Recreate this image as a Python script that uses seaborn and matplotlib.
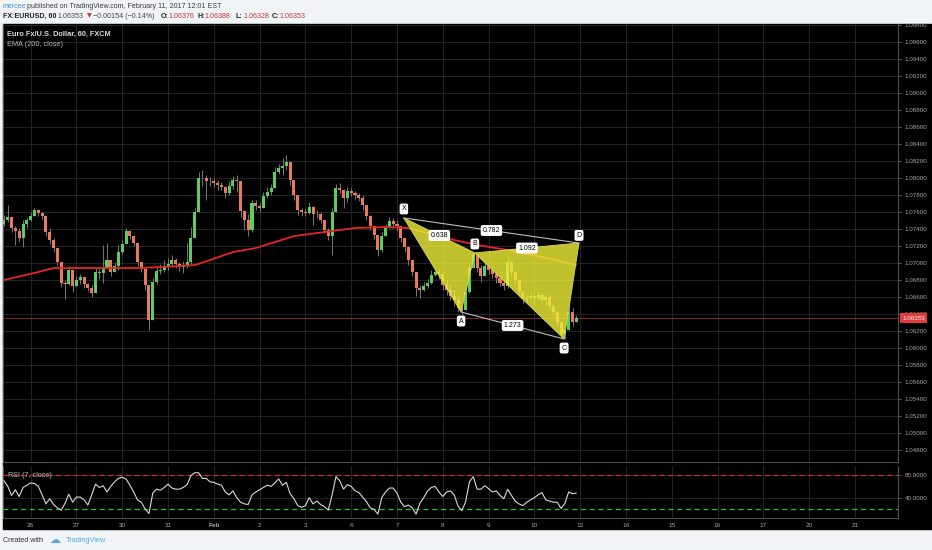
import numpy as np
import pandas as pd
import matplotlib.pyplot as plt
from matplotlib.patches import Rectangle
import seaborn as sns

# EUR/USD, 2-hour bars, 25 Jan - 10 Feb 2017
close = [
    1.07506, 1.07542, 1.07412, 1.07376, 1.07294, 1.07459, 1.07506, 1.07553, 1.07624, 1.07589,
    1.07553, 1.07364, 1.07271, 1.07176, 1.07011, 1.06765, 1.06753, 1.06918, 1.06729, 1.06800,
    1.06836, 1.06753, 1.06706, 1.06647, 1.06894, 1.06883, 1.06941, 1.07035, 1.06894, 1.06965,
    1.07129, 1.07224, 1.07376, 1.07317, 1.07235, 1.07011, 1.06930, 1.06741, 1.06329, 1.06776,
    1.06906, 1.06918, 1.06965, 1.06988, 1.07035, 1.06988, 1.06953, 1.06965, 1.07011, 1.07294,
    1.07600, 1.08000, 1.08000, 1.07964, 1.07964, 1.07941, 1.07917, 1.07894, 1.07824, 1.07906,
    1.07976, 1.07964, 1.07612, 1.07506, 1.07388, 1.07706, 1.07671, 1.07647, 1.07788, 1.07835,
    1.07882, 1.08071, 1.08118, 1.08141, 1.08188, 1.07976, 1.07800, 1.07624, 1.07600, 1.07589,
    1.07659, 1.07577, 1.07577, 1.07506, 1.07388, 1.07317, 1.07600, 1.07882, 1.07859, 1.07765,
    1.07847, 1.07824, 1.07800, 1.07765, 1.07682, 1.07553, 1.07435, 1.07329, 1.07153, 1.07317,
    1.07412, 1.07494, 1.07459, 1.07435, 1.07294, 1.07188, 1.07035, 1.06894, 1.06706, 1.06682,
    1.06729, 1.06765, 1.06859, 1.06894, 1.06871, 1.06741, 1.06682, 1.06612, 1.06565, 1.06471,
    1.06447, 1.06659, 1.06941, 1.07094, 1.06941, 1.06847, 1.06965, 1.06918, 1.06871, 1.06824,
    1.06765, 1.06729, 1.07011, 1.06894, 1.06800, 1.06659, 1.06576, 1.06588, 1.06612, 1.06588,
    1.06623, 1.06565, 1.06600, 1.06494, 1.06423, 1.06306, 1.06165, 1.06212, 1.06423, 1.06306,
    1.06353]
high = [
    1.07565, 1.07682, 1.07506, 1.07435, 1.07412, 1.07506, 1.07530, 1.07600, 1.07647, 1.07635,
    1.07600, 1.07542, 1.07412, 1.07294, 1.07153, 1.06999, 1.06800, 1.06965, 1.06847, 1.06847,
    1.06871, 1.06824, 1.06765, 1.06741, 1.06941, 1.06941, 1.07212, 1.07235, 1.07011, 1.07011,
    1.07212, 1.07271, 1.07412, 1.07388, 1.07329, 1.07212, 1.07011, 1.06941, 1.06741, 1.06824,
    1.06965, 1.06988, 1.07035, 1.07059, 1.07094, 1.07059, 1.07011, 1.07023, 1.07235, 1.07423,
    1.07647, 1.08071, 1.08094, 1.08035, 1.08012, 1.08000, 1.07976, 1.07953, 1.07906, 1.07964,
    1.08023, 1.08035, 1.07917, 1.07624, 1.07577, 1.07741, 1.07741, 1.07706, 1.07835, 1.07894,
    1.07929, 1.08129, 1.08165, 1.08235, 1.08271, 1.08176, 1.07976, 1.07800, 1.07647, 1.07635,
    1.07718, 1.07671, 1.07624, 1.07600, 1.07506, 1.07412, 1.07647, 1.07929, 1.07941, 1.07870,
    1.07894, 1.07882, 1.07847, 1.07824, 1.07800, 1.07682, 1.07565, 1.07435, 1.07329, 1.07364,
    1.07459, 1.07542, 1.07530, 1.07506, 1.07435, 1.07294, 1.07188, 1.07035, 1.06894, 1.06741,
    1.06776, 1.06812, 1.06918, 1.06941, 1.06930, 1.06918, 1.06800, 1.06741, 1.06682, 1.06612,
    1.06506, 1.06706, 1.06999, 1.07129, 1.07082, 1.06976, 1.07023, 1.06976, 1.06941, 1.06894,
    1.06847, 1.06800, 1.07082, 1.07035, 1.06918, 1.06800, 1.06682, 1.06635, 1.06659, 1.06659,
    1.06670, 1.06647, 1.06647, 1.06623, 1.06529, 1.06447, 1.06306, 1.06259, 1.06565, 1.06471,
    1.06388]
low = [
    1.07435, 1.07482, 1.07364, 1.07212, 1.07247, 1.07189, 1.07412, 1.07494, 1.07565, 1.07553,
    1.07518, 1.07317, 1.07224, 1.07129, 1.06976, 1.06718, 1.06576, 1.06741, 1.06658, 1.06729,
    1.06753, 1.06706, 1.06670, 1.06600, 1.06706, 1.06812, 1.06765, 1.06976, 1.06847, 1.06894,
    1.06918, 1.07106, 1.07271, 1.07282, 1.07200, 1.06965, 1.06894, 1.06682, 1.06212, 1.06353,
    1.06753, 1.06871, 1.06894, 1.06918, 1.06953, 1.06941, 1.06906, 1.06883, 1.06941, 1.06988,
    1.07294, 1.07624, 1.07906, 1.07741, 1.07906, 1.07894, 1.07859, 1.07859, 1.07765, 1.07800,
    1.07871, 1.07835, 1.07542, 1.07388, 1.07317, 1.07364, 1.07624, 1.07600, 1.07647, 1.07765,
    1.07800, 1.07906, 1.08047, 1.08035, 1.08094, 1.07917, 1.07741, 1.07565, 1.07553, 1.07553,
    1.07577, 1.07447, 1.07530, 1.07470, 1.07353, 1.07271, 1.07094, 1.07600, 1.07812, 1.07647,
    1.07718, 1.07788, 1.07753, 1.07729, 1.07624, 1.07506, 1.07388, 1.07282, 1.07082, 1.07129,
    1.07317, 1.07435, 1.07412, 1.07376, 1.07247, 1.07129, 1.06976, 1.06847, 1.06612, 1.06588,
    1.06670, 1.06706, 1.06753, 1.06847, 1.06812, 1.06682, 1.06623, 1.06565, 1.06494, 1.06423,
    1.06400, 1.06447, 1.06647, 1.06941, 1.06894, 1.06776, 1.06847, 1.06871, 1.06824, 1.06765,
    1.06729, 1.06682, 1.06706, 1.06847, 1.06753, 1.06612, 1.06529, 1.06529, 1.06553, 1.06541,
    1.06565, 1.06518, 1.06506, 1.06459, 1.06388, 1.06259, 1.06129, 1.06106, 1.06212, 1.06259,
    1.06329]
first_open = 1.07459

rsi = [
    70, 60, 44, 54, 42, 58, 62, 66, 65, 60,
    45, 29, 38, 28, 22, 18, 30, 46, 32, 41,
    41, 36, 27, 45, 64, 58, 61, 50, 60, 68,
    74, 76, 73, 62, 50, 36, 32, 20, 12, 48,
    55, 53, 58, 64, 57, 55, 55, 58, 63, 79,
    84, 84, 74, 74, 68, 67, 64, 62, 50, 45,
    52, 40, 32, 29, 28, 45, 50, 54, 58, 62,
    60, 66, 73, 62, 67, 47, 38, 26, 23, 26,
    40, 29, 34, 28, 24, 18, 45, 77, 70, 55,
    63, 60, 52, 49, 41, 33, 22, 19, 11, 40,
    50, 57, 57, 48, 32, 24, 27, 22, 11, 30,
    40, 52, 58, 60, 50, 42, 50, 52, 45, 25,
    17, 33, 68, 77, 55, 55, 61, 56, 50, 52,
    44, 38, 55, 44, 34, 29, 26, 32, 36, 40,
    45, 49, 36, 34, 32, 32, 21, 30, 50, 47,
    48]

# EMA(200) read at a few bars
ema_bar = [0, 8, 13, 24, 36, 46, 50, 54, 60, 66, 76, 84, 92, 100, 106, 112, 118, 124, 132, 140, 150]
ema_val = [1.06800, 1.06883, 1.06941, 1.06941, 1.06941, 1.06965, 1.06976, 1.07035, 1.07129, 1.07176,
           1.07317, 1.07364, 1.07412, 1.07423, 1.07412, 1.07341, 1.07271, 1.07212, 1.07153, 1.07082,
           1.06976]

# harmonic pattern
pat_names = ["X", "A", "B", "C", "D"]
pat_bar = [104.8, 119.8, 123.4, 146.8, 150.7]
pat_price = [1.07530, 1.06424, 1.07118, 1.06106, 1.07235]
ratio_text = ["0.638", "0.782", "1.092", "1.273"]
ratio_legs = [("X", "B"), ("X", "D"), ("B", "D"), ("A", "C")]

day_labels = ["26", "27", "30", "31", "Feb", "2", "3", "6", "7", "8", "9", "10",
              "13", "14", "15", "16", "17", "20", "21"]
last_price = 1.06353

sns.set_style("dark")
plt.rcParams['font.family'] = ['Liberation Sans', 'DejaVu Sans']

W, H = 932, 550
fx = lambda px: px / W
fy = lambda py: 1 - py / H

fig = plt.figure(figsize=(9.32, 5.5), dpi=100)
fig.patch.set_facecolor('#f1f4f6')
fig.add_artist(Rectangle((fx(3), fy(529)), fx(932) - fx(3), fy(24) - fy(529),
                         transform=fig.transFigure, color='black', zorder=-1))

ax = fig.add_axes([fx(3), fy(462), fx(898) - fx(3), fy(24) - fy(462)])
ax2 = fig.add_axes([fx(3), fy(518), fx(898) - fx(3), fy(466) - fy(518)])

c = np.array(close)
o = np.array([first_open] + close[:-1])
hi = np.maximum(np.array(high), np.maximum(o, c))
lo = np.minimum(np.array(low), np.minimum(o, c))
df = pd.DataFrame({"bar": np.arange(len(c)), "open": o, "close": c, "high": hi, "low": lo, "rsi": rsi})
up = df["close"] >= df["open"]
cols = np.where(up, '#5fcc5f', '#ea7a5c')

ticks = [7 + 12 * k for k in range(len(day_labels))]

for a in (ax, ax2):
    a.set_facecolor('black')
    a.set_xlim(-0.25, 234.3)
    a.set_xticks(ticks)
    a.grid(True, color='#2a2a2a', lw=0.6)
    a.yaxis.tick_right()
    a.tick_params(axis='y', colors='#666666', labelcolor='#a6a6a6', labelsize=4.5,
                  length=2.5, width=0.6, pad=2.5)
    for s in a.spines.values():
        s.set_color('#555555')
        s.set_linewidth(0.7)
    a.spines['top'].set_visible(False)

# price panel
ax.set_ylim(1.04659, 1.09812)
yt = np.arange(1.048, 1.0985, 0.002)
ax.set_yticks(yt)
ax.set_yticklabels([f"{v:.5f}" for v in yt])
ax.tick_params(axis='x', length=0, labelbottom=False)

ax.axhline(last_price, color='#7a2020', lw=0.8, zorder=1)
ax.vlines(df["bar"], df["low"], df["high"], color='#8a8a8a', lw=0.6, zorder=2)
body = np.maximum((df["close"] - df["open"]).abs(), 0.00005)
ax.bar(df["bar"], body, bottom=np.minimum(df["open"], df["close"]), width=0.8,
       color=cols, linewidth=0, zorder=3)
sns.lineplot(x=ema_bar, y=ema_val, ax=ax, color='#e32626', lw=1.3, zorder=4)

P = {n: (b, p) for n, b, p in zip(pat_names, pat_bar, pat_price)}
for tri in (("X", "A", "B"), ("B", "C", "D")):
    ax.fill([P[t][0] for t in tri], [P[t][1] for t in tri], color='#ecec36', alpha=0.82, lw=0, zorder=5)
    ax.plot([P[t][0] for t in tri + (tri[0],)], [P[t][1] for t in tri + (tri[0],)],
            color='#cfcf52', lw=0.7, zorder=6)
for a_, b_ in (("X", "D"), ("A", "C")):
    ax.plot([P[a_][0], P[b_][0]], [P[a_][1], P[b_][1]], color='#bdbdbd', lw=0.8, zorder=6)

box = dict(boxstyle='round,pad=0.28', fc='white', ec='none')
offs = {"X": 6.5, "A": -6.5, "B": 6.5, "C": -6.5, "D": 5.5}
for n in pat_names:
    ax.annotate(n, P[n], xytext=(0, offs[n]), textcoords='offset points', ha='center', va='center',
                fontsize=5, color='black', bbox=box, zorder=8)
for t, (a_, b_) in zip(ratio_text, ratio_legs):
    mx = (P[a_][0] + P[b_][0]) / 2
    my = (P[a_][1] + P[b_][1]) / 2
    ax.text(mx, my, t, ha='center', va='center', fontsize=5, color='black', bbox=box, zorder=8)

ax.text(1.0045, last_price, f"{last_price:.5f}", transform=ax.get_yaxis_transform(), ha='left',
        va='center', fontsize=4.5, color='white', zorder=10, clip_on=False,
        bbox=dict(boxstyle='square,pad=0.35', fc='#e23b3b', ec='none'))

ax.text(0.005, 0.976, "Euro Fx/U.S. Dollar, 60, FXCM", transform=ax.transAxes, fontsize=5.3,
        color='#dcdcdc', va='center', fontweight='bold')
ax.text(0.005, 0.954, "EMA (200, close)", transform=ax.transAxes, fontsize=5.3,
        color='#b4b4b4', va='center')

# RSI panel
ax2.set_ylim(4.1, 95.9)
ax2.set_yticks([40, 80])
ax2.set_yticklabels(["40.0000", "80.0000"])
sns.lineplot(data=df, x="bar", y="rsi", ax=ax2, color='#dadada', lw=0.8, zorder=4)
ax2.axhline(80, color='#c4302b', ls=(0, (4, 3)), lw=0.9, zorder=3)
ax2.axhline(20, color='#27c427', ls=(0, (4, 3)), lw=0.9, zorder=3)
ax2.set_xlabel("")
ax2.set_ylabel("")
ax.set_xlabel("")
ax.set_ylabel("")
ax2.set_xticklabels(day_labels)
ax2.tick_params(axis='x', length=0, labelsize=4.6, labelcolor='#a6a6a6', pad=3.5)
ax2.get_xticklabels()[4].set_fontweight('bold')
ax2.text(0.006, 0.82, "RSI (7, close)", transform=ax2.transAxes, fontsize=5.2, color='#bdbdbd', va='center')

# header / footer
fs = 5.1
fig.text(fx(3), fy(6), "mercee", fontsize=fs, color='#4a8fd6', va='center')
fig.text(fx(27), fy(6), "published on TradingView.com, February 11, 2017 12:01 EST",
         fontsize=fs, color='#3c3c3c', va='center')
fig.text(fx(3), fy(16), "FX:EURUSD, 60", fontsize=fs, color='#222222', va='center', fontweight='bold')
fig.text(fx(58), fy(16), "1.06353", fontsize=fs, color='#444444', va='center')
fig.text(fx(86.5), fy(16), "▼", fontsize=4.6, color='#d0302f', va='center', family='DejaVu Sans')
fig.text(fx(93), fy(16), "\u22120.00154 (\u22120.14%)", fontsize=fs, color='#444444', va='center')
for lab, val, x0 in (("O:", "1.06376", 161), ("H:", "1.06388", 197), ("L:", "1.06328", 236), ("C:", "1.06353", 272)):
    fig.text(fx(x0), fy(16), lab, fontsize=fs, color='#222222', va='center', fontweight='bold')
    fig.text(fx(x0 + 7.5), fy(16), val, fontsize=fs, color='#c0343f', va='center')

fig.text(fx(3), fy(540), "Created with", fontsize=fs, color='#333333', va='center')
fig.text(fx(49), fy(540), "\u2601", fontsize=8, color='#5aa9e3', va='center', family='DejaVu Sans')
fig.text(fx(66), fy(540), "TradingView", fontsize=5.3, color='#55a6e0', va='center')

plt.savefig("out.png", dpi=100, facecolor=fig.get_facecolor())
